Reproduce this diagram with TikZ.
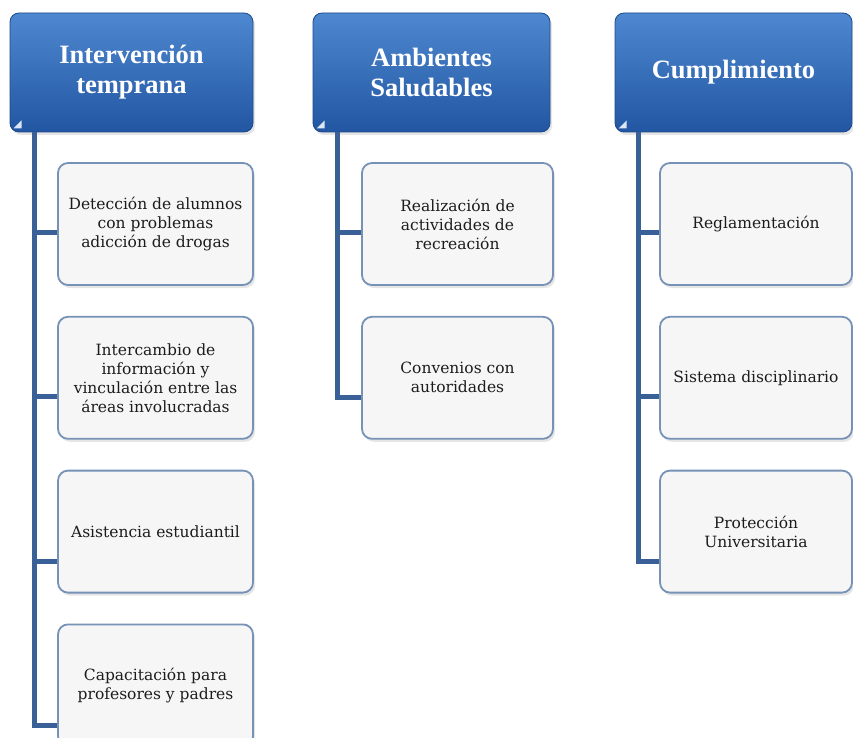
\documentclass[tikz,border=0pt]{standalone}
\usepackage{fontspec}
\setmainfont{DejaVu Serif}
\newfontfamily\hdrfont{Liberation Serif}
\usepackage{tikz}
\usetikzlibrary{positioning,shadows}
\definecolor{HdrTop}{RGB}{78,136,208}
\definecolor{HdrBot}{RGB}{34,86,162}
\definecolor{LinkBlue}{RGB}{58,96,152}
\definecolor{BoxEdge}{RGB}{118,146,182}
\definecolor{BoxFill}{RGB}{246,246,246}
\definecolor{TextGray}{RGB}{28,28,28}

\begin{document}
\begin{tikzpicture}[x=1pt, y=-1pt,
            header/.style={rounded corners=9pt, top color=HdrTop, bottom color=HdrBot,
                draw=HdrBot!85!black, line width=0.8pt, text=white, align=center,
                font=\hdrfont\bfseries\fontsize{26.5}{30}\selectfont,
                minimum height=119pt, inner sep=0pt,
                drop shadow={opacity=0.2, shadow xshift=2pt, shadow yshift=-3pt}},
            topic/.style={rounded corners=10pt, fill=BoxFill, draw=BoxEdge, line width=1.8pt,
                text=TextGray, align=center, font=\fontsize{15.5}{19}\selectfont,
                minimum height=122pt, inner sep=0pt,
                drop shadow={opacity=0.2, shadow xshift=2pt, shadow yshift=-3pt}},
            link/.style={LinkBlue, line width=5pt},
            fold/.style={fill=white!80!HdrTop}
        ]
            \useasboundingbox [fill=white] (0,0) rectangle (853,738);

            % Headers
            \node [header, minimum width=243pt] (hdrA) at (131.5,72.5) {Intervención\\temprana};
            \node [header, minimum width=237pt] (hdrB) at (431.5,72.5) {Ambientes\\Saludables};
            \node [header, minimum width=237pt] (hdrC) at (733.5,72.5) {Cumplimiento};

            % Corner folds
            \foreach \h in {hdrA,hdrB,hdrC}
                \fill [fold] ([shift={(4pt,4pt)}]\h.south west) -- ++(8pt,0pt) -- ++(0pt,8pt) -- cycle;

            % Topics, first column
            \node [topic, minimum width=195pt] (a1) at (155.5,224) {Detección de alumnos\\con problemas\\adicción de drogas};
            \node [topic, minimum width=195pt, below=30pt of a1] (a2) {Intercambio de\\información y\\vinculación entre las\\áreas involucradas};
            \node [topic, minimum width=195pt, below=30pt of a2] (a3) {Asistencia estudiantil};
            \node [topic, minimum width=195pt, below=30pt of a3] (a4) {Capacitación para\\profesores y padres};

            % Topics, second column
            \node [topic, minimum width=191pt] (b1) at (457.5,224) {Realización de\\actividades de\\recreación};
            \node [topic, minimum width=191pt, below=30pt of b1] (b2) {Convenios con\\autoridades};

            % Topics, third column
            \node [topic, minimum width=192pt] (c1) at (756,224) {Reglamentación};
            \node [topic, minimum width=192pt, below=30pt of c1] (c2) {Sistema disciplinario};
            \node [topic, minimum width=192pt, below=30pt of c2] (c3) {Protección\\Universitaria};

            % Links
            \coordinate (ta) at ([xshift=24.5pt]hdrA.south west);
            \coordinate (tb) at ([xshift=24.5pt]hdrB.south west);
            \coordinate (tc) at ([xshift=24pt]hdrC.south west);
            \draw [link] (ta) |- ([yshift=-8pt]a1.west);
            \draw [link] (ta) |- ([yshift=-19pt]a2.west);
            \draw [link] (ta) |- ([yshift=-30pt]a3.west);
            \draw [link] (ta) |- ([yshift=-40pt]a4.west);
            \draw [link] (tb) |- ([yshift=-8pt]b1.west);
            \draw [link] (tb) |- ([yshift=-20pt]b2.west);
            \draw [link] (tc) |- ([yshift=-8pt]c1.west);
            \draw [link] (tc) |- ([yshift=-19pt]c2.west);
            \draw [link] (tc) |- ([yshift=-30pt]c3.west);
        \end{tikzpicture}
\end{document}
